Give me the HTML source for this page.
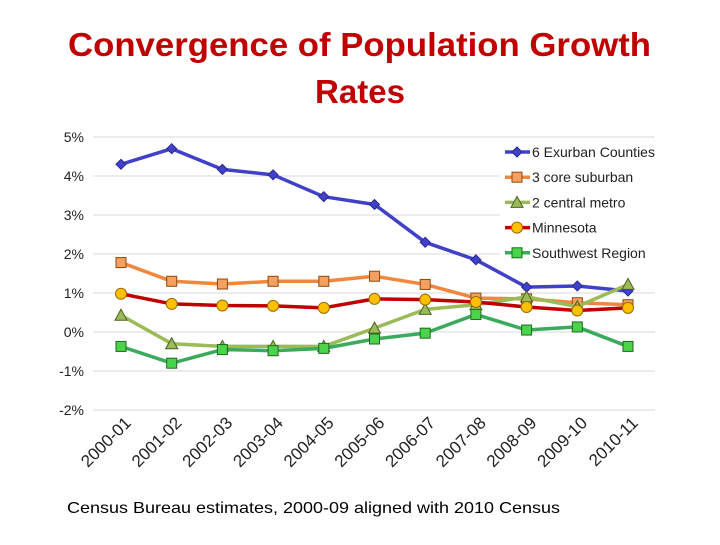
<!DOCTYPE html>
<html><head><meta charset="utf-8"><style>
body{margin:0;background:#fff;width:720px;height:540px;overflow:hidden;font-family:"Liberation Sans",sans-serif}
</style></head><body>
<svg width="720" height="540" id="svg">
<text x="68" y="56" font-size="33" font-weight="bold" textLength="583" lengthAdjust="spacingAndGlyphs" fill="#C00000" font-family="Liberation Sans, sans-serif">Convergence of Population Growth</text>
<text x="315" y="103" font-size="33" font-weight="bold" textLength="90" lengthAdjust="spacingAndGlyphs" fill="#C00000" font-family="Liberation Sans, sans-serif">Rates</text>
<text x="67" y="513" font-size="16" textLength="493" lengthAdjust="spacingAndGlyphs" fill="#000">Census Bureau estimates, 2000-09 aligned with 2010 Census</text>
<g id="plot"></g>
</svg>
<script>
const categories=["2000-01","2001-02","2002-03","2003-04","2004-05","2005-06","2006-07","2007-08","2008-09","2009-10","2010-11"];
const yTicks=[5,4,3,2,1,0,-1,-2];
const exurban=[4.3,4.7,4.17,4.03,3.47,3.27,2.3,1.85,1.15,1.18,1.05];
const coreSuburban=[1.78,1.3,1.23,1.3,1.3,1.43,1.22,0.87,0.85,0.75,0.7];
const centralMetro=[0.43,-0.3,-0.37,-0.37,-0.37,0.1,0.58,0.7,0.9,0.65,1.22];
const minnesota=[0.98,0.72,0.68,0.67,0.62,0.85,0.83,0.77,0.64,0.55,0.62];
const southwest=[-0.37,-0.8,-0.45,-0.48,-0.42,-0.18,-0.03,0.45,0.05,0.13,-0.37];
const seriesNames=["6 Exurban Counties","3 core suburban","2 central metro","Minnesota","Southwest Region"];
const NS="http://www.w3.org/2000/svg";
const g=document.getElementById('plot');
const yS=v=>332-v*39;
const xS=i=>121+i*50.7;
function el(t,a,p){const e=document.createElementNS(NS,t);for(const k in a)e.setAttribute(k,a[k]);(p||g).appendChild(e);return e;}
yTicks.forEach(v=>{
 const l=el('line',{x1:93,x2:655,y1:yS(v),y2:yS(v),stroke:'#d9d9d9','stroke-width':1});
 
 
 const t=el('text',{x:84,y:yS(v)+5,'text-anchor':'end','font-size':14,fill:'#222'});
 t.textContent=v+'%';
 
 
});
categories.forEach((c,i)=>{
 const t=el('text',{x:0,y:0,'text-anchor':'end','font-size':17,fill:'#222',transform:`translate(${xS(i)+11},${424}) rotate(-45)`});
 t.textContent=c;
 
 
});
function marker(type,x,y,fill,stroke,parent){
 let m;
 if(type==='diamond')m=el('polygon',{points:`${x},${y-5} ${x+5},${y} ${x},${y+5} ${x-5},${y}`,fill,stroke,'stroke-width':1},parent);
 else if(type==='square')m=el('rect',{x:x-5,y:y-5,width:10,height:10,fill,stroke,'stroke-width':1},parent);
 else if(type==='tri')m=el('polygon',{points:`${x},${y-6} ${x+6},${y+5} ${x-6},${y+5}`,fill,stroke,'stroke-width':1},parent);
 else m=el('circle',{cx:x,cy:y,r:5.5,fill,stroke,'stroke-width':1},parent);
 return m;
}
const specs=[
 [exurban,'#4040C8','diamond','#4040C8','#2a2a90'],
 [coreSuburban,'#F0873C','square','#F5A060','#8a4a10'],
 [centralMetro,'#9BBB59','tri','#9BBB59','#4a6020'],
 [minnesota,'#C00000','circle','#FFC000','#9a6a00'],
 [southwest,'#3BAA5C','square','#4CD34C','#1d6a1d']
];
specs.forEach((s,k)=>{
 const [data,col,mt,mf,ms]=s;
 const sg=el('g',{});
 
 
 const p=el('polyline',{points:data.map((v,i)=>xS(i)+','+yS(v)).join(' '),fill:'none',stroke:col,'stroke-width':3.5,'stroke-linejoin':'round'},sg);
 
 
 data.forEach((v,i)=>{
  const m=marker(mt,xS(i),yS(v),mf,ms,sg);
  
  
 });
});
const lg=el('g',{});


el('rect',{x:500,y:140,width:160,height:124,fill:'#fff'},lg);
specs.forEach((s,k)=>{
 const y=152+k*25.2;
 el('line',{x1:505,x2:530,y1:y,y2:y,stroke:s[1],'stroke-width':3.5},lg);
 marker(s[2],517,y,s[3],s[4],lg);
 const t=el('text',{x:532,y:y+5,'font-size':14,fill:'#222'},lg);
 t.textContent=seriesNames[k];
 
 
});
</script>
</body></html>
